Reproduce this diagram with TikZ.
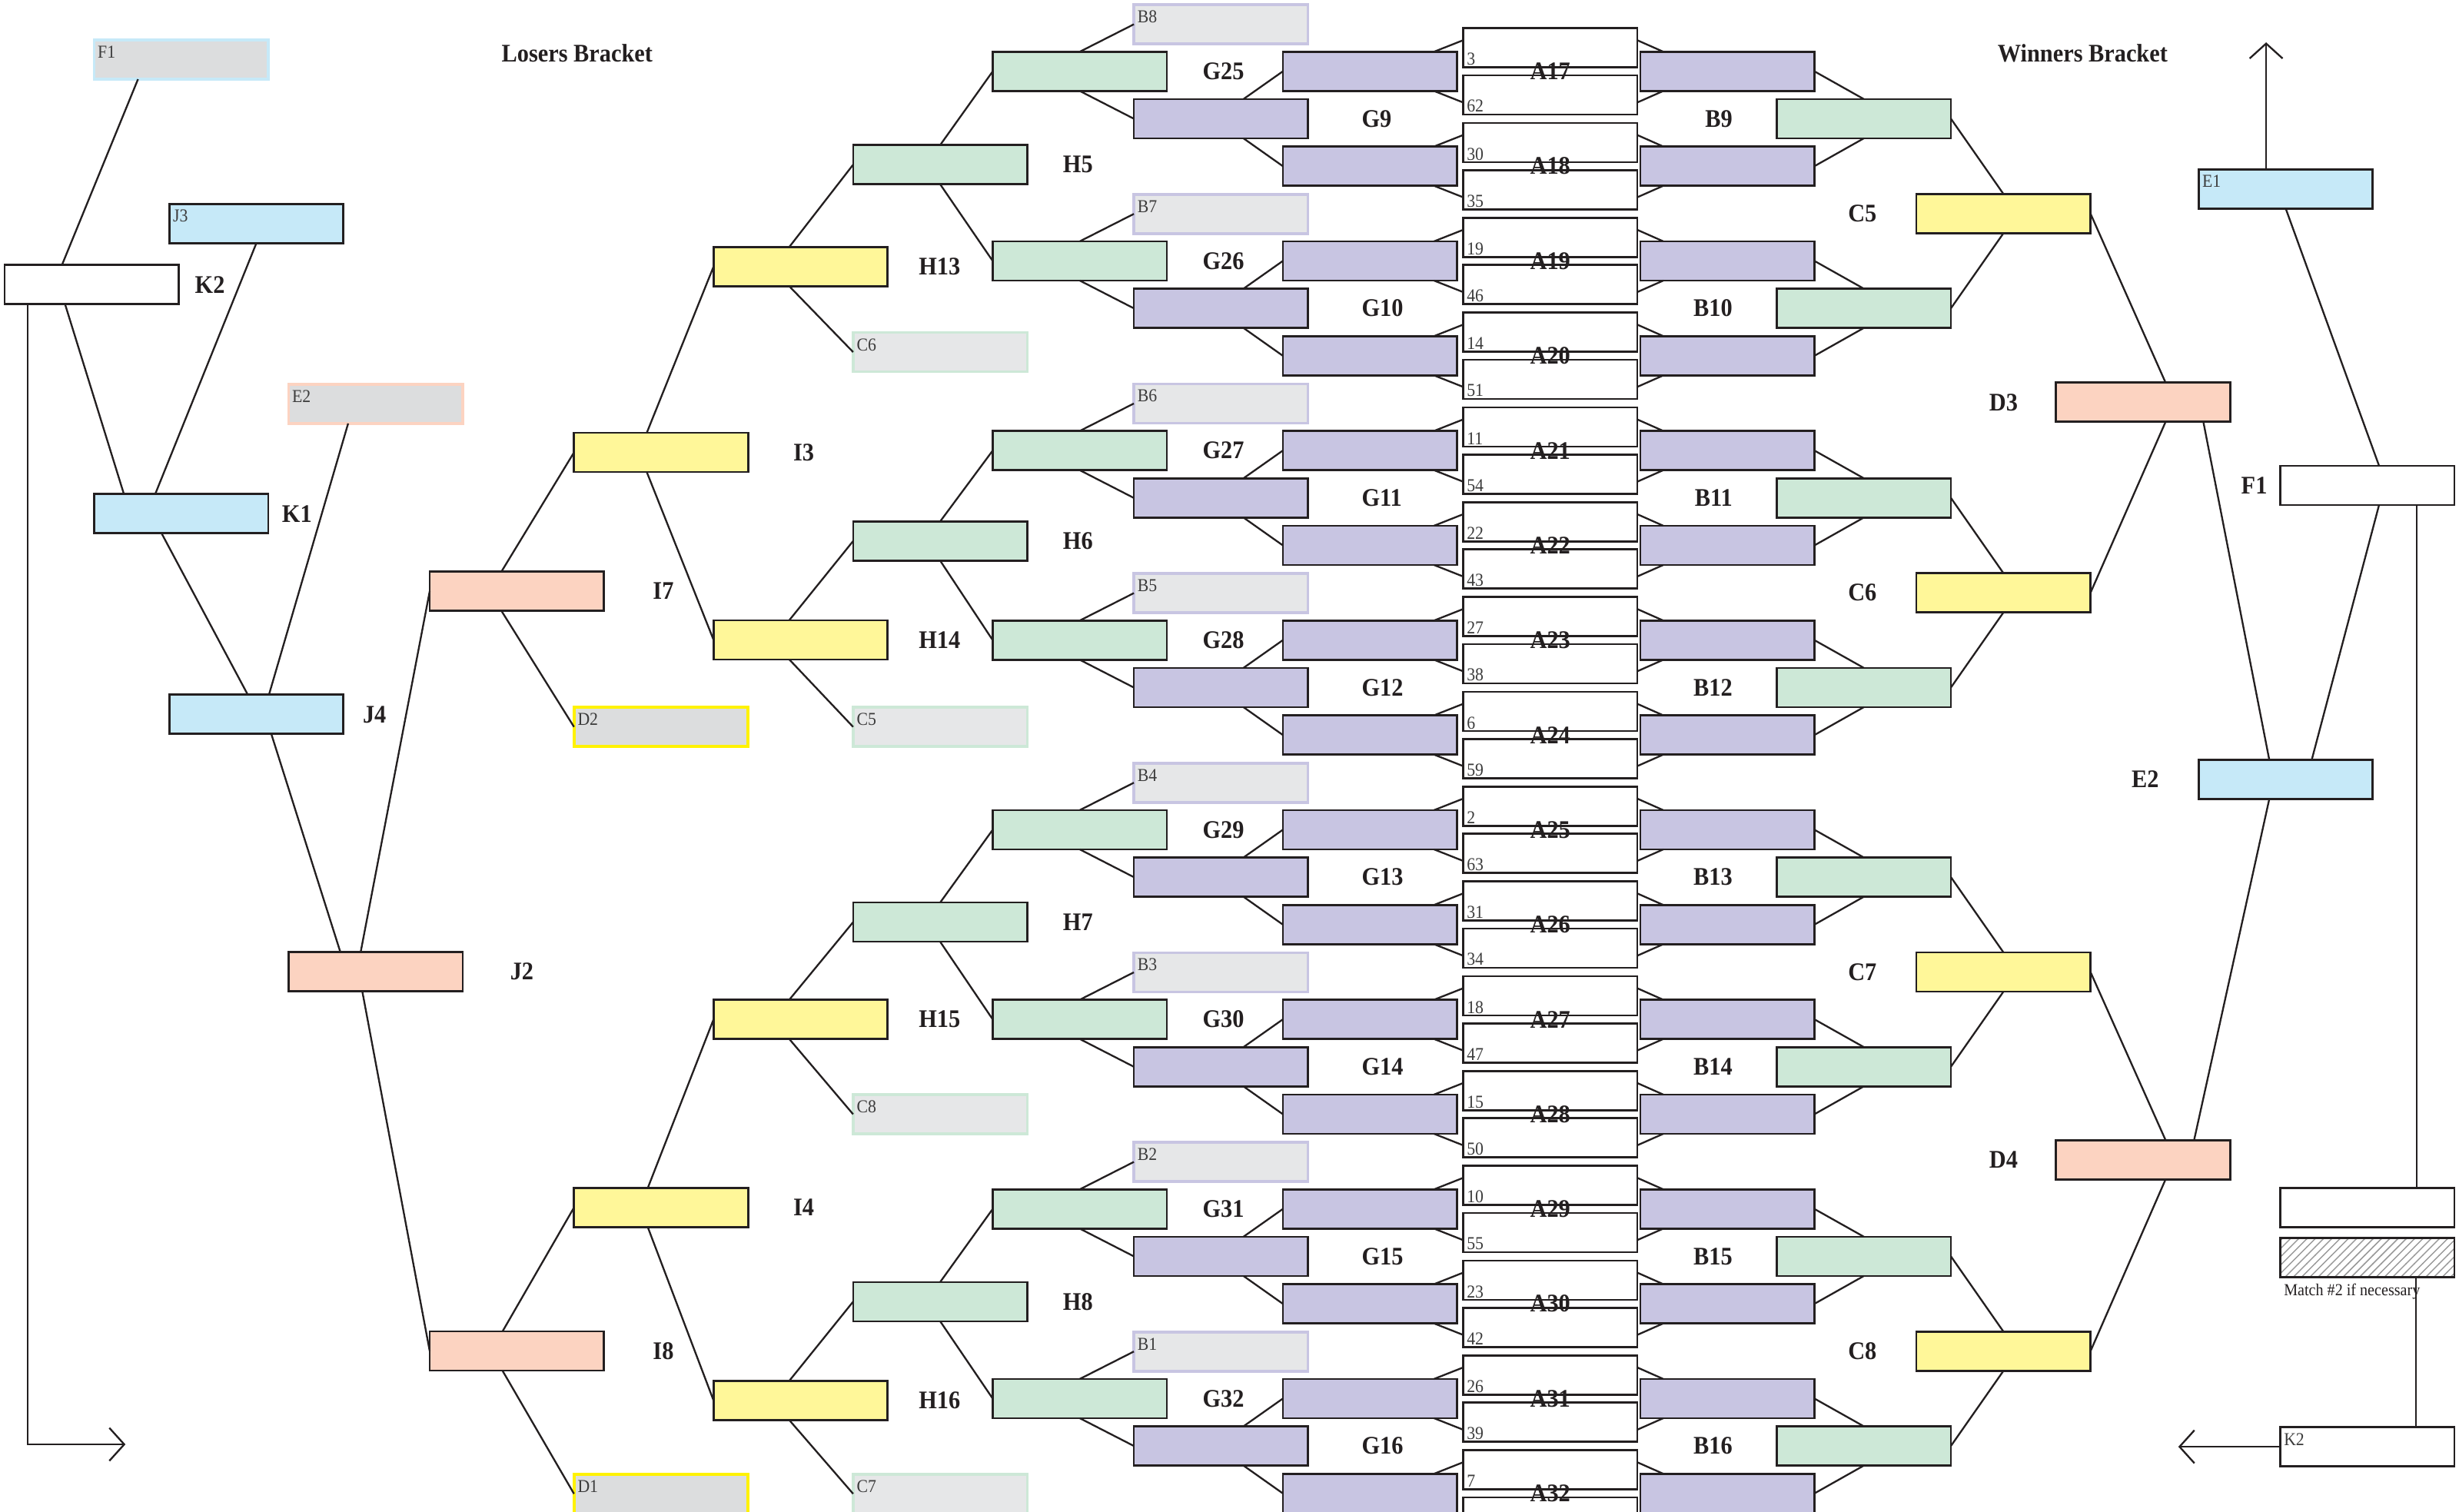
\documentclass[tikz,border=0pt]{standalone}
\usepackage{fontspec}
\setmainfont[FakeStretch=0.92]{Liberation Serif}
\usetikzlibrary{positioning,calc,arrows.meta,patterns}
\definecolor{linec}{HTML}{231F20}
\definecolor{bluef}{HTML}{C6E9F8}
\definecolor{yelf}{HTML}{FFF799}
\definecolor{salf}{HTML}{FCD3C1}
\definecolor{grnf}{HTML}{CDE8D7}
\definecolor{purf}{HTML}{C8C5E2}
\definecolor{slotf}{HTML}{DCDDDE}
\definecolor{slotl}{HTML}{E6E7E8}
\definecolor{slotyel}{HTML}{FFF200}
\definecolor{tagc}{HTML}{3C3C3C}
\tikzset{
>={Straight Barb[length=1.9mm,width=4.2mm]},
  mbox/.style={
    rectangle,
    draw=linec, line width=0.75pt,
    minimum width=22.2mm,
    minimum height=5mm,
    inner sep=0pt, outer sep=0pt},
  whtbox/.style={mbox, fill=white},
  bluebox/.style={mbox, fill=bluef},
  yelbox/.style={mbox, fill=yelf},
  salbox/.style={mbox, fill=salf},
  grnbox/.style={mbox, fill=grnf},
  purbox/.style={mbox, fill=purf},
  hatchbox/.style={mbox, pattern=north east lines, pattern color=gray!80},
  % empty slots, filled later from the other bracket
  slotblu/.style={mbox, line width=1pt, fill=slotf, draw=bluef},
  slotsal/.style={mbox, line width=1pt, fill=slotf, draw=salf},
  slotyel/.style={mbox, line width=1pt, fill=slotf, draw=slotyel},
  slotgrn/.style={mbox, line width=1pt, fill=slotl, draw=grnf},
  slotpur/.style={mbox, line width=1pt, fill=slotl, draw=purf},
  line/.style={draw=linec, line width=0.65pt},
  lbl/.style={font=\fontsize{9.2}{10}\selectfont\bfseries, text=linec, inner sep=0pt},
  tag/.style={font=\fontsize{6.6}{7}\selectfont, text=tagc, inner xsep=0.4mm, inner ysep=0.7mm, anchor=north west},
  num/.style={font=\fontsize{6.6}{7}\selectfont, text=tagc, inner xsep=0.4mm, inner ysep=0.2mm, anchor=south west},
}
\begin{document}
\begin{tikzpicture}[x=0.2mm, y=-0.2mm]
  \useasboundingbox (0,0) rectangle (1568,964);
  \clip (0,0) rectangle (1568,964);

  \node[lbl] (losers) at (368,34) {Losers Bracket};
  \node[lbl] (winners) at (1328,34) {Winners Bracket};

  % first round: two A boxes per match
  \foreach \k/\u/\l [count=\i from 0] in {17/3/62,18/30/35,19/19/46,20/14/51,21/11/54,22/22/43,23/27/38,24/6/59,25/2/63,26/31/34,27/18/47,28/15/50,29/10/55,30/23/42,31/26/39,32/7/{}}{
    \pgfmathsetmacro\ay{45.5+60.45*\i}
    \node[purbox] (lp\k) at (873.5,\ay) {};
    \node[purbox] (rp\k) at (1101.5,\ay) {};
    \node[whtbox] (au\k) at (988.5,\ay-15) {};
    \node[whtbox] (al\k) at (988.5,\ay+15) {};
    \node[num] (nu\k) at (au\k.south west) {\u};
    \node[num] (nl\k) at (al\k.south west) {\l};
    \node[lbl] (at\k) at (988.5,\ay) {A\k};
    \draw[line] (au\k.175) -- (lp\k.17);
    \draw[line] (al\k.185) -- (lp\k.-17);
    \draw[line] (au\k.5) -- (rp\k.163);
    \draw[line] (al\k.-5) -- (rp\k.-163);
  }

  % G and B rounds
  \foreach \g/\s [count=\j from 0] in {25/8,26/7,27/6,28/5,29/4,30/3,31/2,32/1}{
    \pgfmathsetmacro\gy{45.5+120.9*\j}
    \pgfmathtruncatemacro\m{\j+9}
    \pgfmathtruncatemacro\ka{17+2*\j}
    \pgfmathtruncatemacro\kb{18+2*\j}
    \node[grnbox] (g\g) at (688.5,\gy) {};
    \node[lbl, right=4.5mm of g\g] (g\g-l) {G\g};
    \node[slotpur] (sB\s) at (778.5,\gy-30) {};
    \node[tag] (sB\s-t) at (sB\s.north west) {B\s};
    \node[purbox] (g\m) at (778.5,\gy+30.2) {};
    \node[lbl, right=6.8mm of g\m] (g\m-l) {G\m};
    \node[grnbox] (b\m) at (1188.5,\gy+30.2) {};
    \node[lbl, left=5.6mm of b\m] (b\m-l) {B\m};
    \draw[line] (lp\ka.west) -- (g\m.41);
    \draw[line] (lp\kb.west) -- (g\m.-41);
    \draw[line] (rp\ka.east) -- (b\m.north);
    \draw[line] (rp\kb.east) -- (b\m.south);
    \draw[line] (g\g.north) -- (sB\s.west);
    \draw[line] (g\g.south) -- (g\m.west);
  }

  % H rounds
  \foreach \n/\y/\c/\cy/\h/\hy in {13/170/6/224.5/5/105,14/408/5/463.5/6/345,15/650/8/710.5/7/588,16/893/7/952.5/8/830}{
    \pgfmathtruncatemacro\ga{2*\h+15}
    \pgfmathtruncatemacro\gb{2*\h+16}
    \node[grnbox] (h\h) at (599.5,\hy) {};
    \node[lbl, right=4.5mm of h\h] (h\h-l) {H\h};
    \node[slotgrn] (sC\c) at (599.5,\cy) {};
    \node[tag] (sC\c-t) at (sC\c.north west) {C\c};
    \node[yelbox] (h\n) at (510.5,\y) {};
    \node[lbl, right=3.9mm of h\n] (h\n-l) {H\n};
    \draw[line] (h\h.north) -- (g\ga.west);
    \draw[line] (h\h.south) -- (g\gb.west);
    \draw[line] (h\n.120) -- (h\h.west);
    \draw[line] (h\n.240) -- (sC\c.west);
  }

  % winners bracket, C round
  \foreach \c [count=\i from 0] in {5,6,7,8}{
    \pgfmathsetmacro\cy{136.2+241.8*\i}
    \pgfmathtruncatemacro\ba{2*\c-1}
    \pgfmathtruncatemacro\bb{2*\c}
    \node[yelbox] (c\c) at (1277.5,\cy) {};
    \node[lbl, left=5mm of c\c] (c\c-l) {C\c};
    \draw[line] (b\ba.east) -- (c\c.north);
    \draw[line] (b\bb.east) -- (c\c.south);
  }

  % losers bracket, outer rounds
  \node[slotblu] (sF1) at (115.5,38) {};
  \node[tag] (sF1-t) at (sF1.north west) {F1};
  \node[bluebox] (j3) at (163.5,142.5) {};
  \node[tag] (j3-t) at (j3.north west) {J3};
  \node[whtbox] (k2) at (58.5,181.5) {};
  \node[lbl, right=2mm of k2] (k2-l) {K2};
  \node[slotsal] (sE2) at (239.5,257.5) {};
  \node[tag] (sE2-t) at (sE2.north west) {E2};
  \node[bluebox] (k1) at (115.5,327.5) {};
  \node[lbl, right=1.7mm of k1] (k1-l) {K1};
  \node[bluebox] (j4) at (163.5,455.5) {};
  \node[lbl, right=2.4mm of j4] (j4-l) {J4};
  \node[salbox] (j2) at (239.5,619.5) {};
  \node[lbl, right=6mm of j2] (j2-l) {J2};
  \node[salbox] (i7) at (329.5,377) {};
  \node[lbl, right=6.2mm of i7] (i7-l) {I7};
  \node[salbox] (i8) at (329.5,861.5) {};
  \node[lbl, right=6.2mm of i8] (i8-l) {I8};
  \node[slotyel] (sD2) at (421.5,463.5) {};
  \node[tag] (sD2-t) at (sD2.north west) {D2};
  \node[slotyel] (sD1) at (421.5,952.5) {};
  \node[tag] (sD1-t) at (sD1.north west) {D1};
  \node[yelbox] (i3) at (421.5,288.5) {};
  \node[lbl, right=5.7mm of i3] (i3-l) {I3};
  \node[yelbox] (i4) at (421.5,770) {};
  \node[lbl, right=5.7mm of i4] (i4-l) {I4};
  \coordinate (lout) at (80,921);

  \draw[line] ($(k2.north)+(-19,0)$) -- ($(sF1.south)+(-27.5,0)$);
  \draw[line] ($(k2.south)+(-17,0)$) -- ($(k1.north)+(-36.5,0)$);
  \draw[line, ->] ($(k2.south)+(-41,0)$) |- (lout);
  \draw[line] ($(k1.north)+(-16.5,0)$) -- (j3.south);
  \draw[line] ($(k1.south)+(-12.5,0)$) -- ($(j4.north)+(-5.5,0)$);
  \draw[line] ($(sE2.south)+(-17.5,0)$) -- ($(j4.north)+(8,0)$);
  \draw[line] ($(j4.south)+(9.5,0)$) -- ($(j2.north)+(-22.5,0)$);
  \draw[line] ($(j2.north)+(-9.5,0)$) -- (i7.west);
  \draw[line] ($(j2.south)+(-8.5,0)$) -- (i8.west);
  \draw[line] (i7.128) -- (i3.west);
  \draw[line] (i7.232) -- (sD2.west);
  \draw[line] (i8.126) -- (i4.west);
  \draw[line] (i8.234) -- (sD1.west);
  \draw[line] (i3.126) -- (h13.west);
  \draw[line] (i3.234) -- (h14.west);
  \draw[line] (i4.124) -- (h15.west);
  \draw[line] (i4.236) -- (h16.west);

  % winners bracket, final rounds
  \node[salbox] (d3) at (1366.5,256.5) {};
  \node[lbl, left=4.8mm of d3] (d3-l) {D3};
  \node[salbox] (d4) at (1366.5,739.5) {};
  \node[lbl, left=4.8mm of d4] (d4-l) {D4};
  \node[bluebox] (e1) at (1457.5,120.5) {};
  \node[tag] (e1-t) at (e1.north west) {E1};
  \node[bluebox] (e2) at (1457.5,497) {};
  \node[lbl, left=5mm of e2] (e2-l) {E2};
  \node[whtbox] (f1) at (1509.5,309.5) {};
  \node[lbl, left=1.6mm of f1] (f1-l) {F1};
  \node[whtbox] (final) at (1509.5,770) {};
  \node[hatchbox] (rematch) at (1509.5,802) {};
  \node[tag, font=\fontsize{6.1}{7}\selectfont, text=linec] (rematch-t) at (rematch.south west) {Match \#2 if necessary};
  \node[whtbox] (k2out) at (1509.5,922.5) {};
  \node[tag] (k2out-t) at (k2out.north west) {K2};
  \coordinate (wout) at (1445,27);
  \coordinate (lret) at (1389,922.5);

  \draw[line] (c5.east) -- (d3.41);
  \draw[line] (c6.east) -- (d3.-41);
  \draw[line] (c7.east) -- (d4.41);
  \draw[line] (c8.east) -- (d4.-41);
  \draw[line] (d3.-18) -- (e2.130);
  \draw[line] (e2.230) -- (d4.21);
  \draw[line] (e1.south) -- (f1.59);
  \draw[line] (f1.-59) -- (e2.37);
  \draw[line] ($(f1.south)+(31.5,0)$) -- ($(final.north)+(31.5,0)$);
  \draw[line] ($(rematch.south)+(31,0)$) -- ($(k2out.north)+(31,0)$);
  \draw[line, ->] ($(e1.north)+(-12.5,0)$) -- (wout);
  \draw[line, ->] (k2out.west) -- (lret);
\end{tikzpicture}
\end{document}
